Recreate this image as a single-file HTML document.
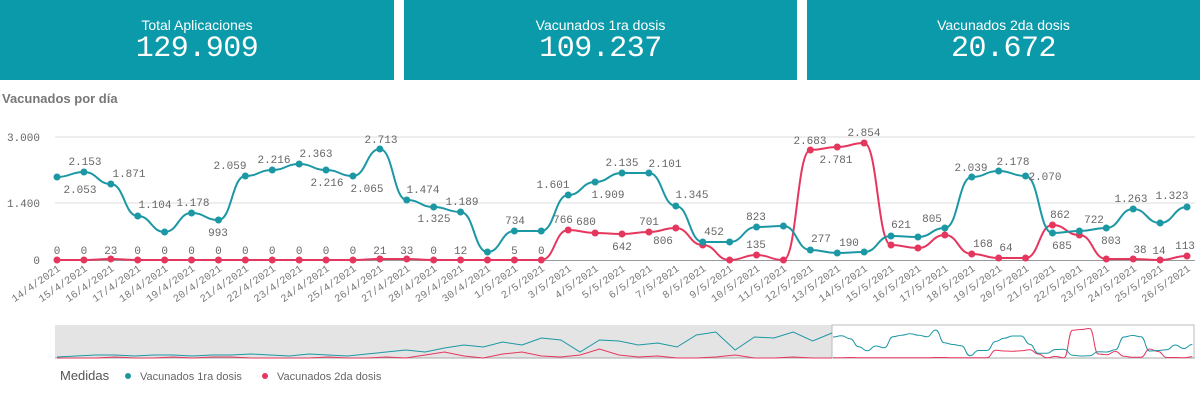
<!DOCTYPE html>
<html><head><meta charset="utf-8"><style>
body{margin:0;width:1200px;height:401px;background:#fff;overflow:hidden;font-family:"Liberation Sans",sans-serif;position:relative}
.card{position:absolute;top:0;height:80px;background:#0b9aa9;color:#fff;text-align:center}
.card .t{font-size:14px;margin-top:17px;line-height:16px}
.card .v{font-family:"Liberation Mono",monospace;font-size:30px;line-height:32px;letter-spacing:-0.5px}
.ttl{position:absolute;left:2px;top:91px;font-weight:bold;font-size:13px;color:#777}
svg{position:absolute;left:0;top:0}
</style></head><body>
<div class="card" style="left:0;width:394px"><div class="t">Total Aplicaciones</div><div class="v">129.909</div></div>
<div class="card" style="left:404px;width:393px"><div class="t">Vacunados 1ra dosis</div><div class="v">109.237</div></div>
<div class="card" style="left:807px;width:393px"><div class="t">Vacunados 2da dosis</div><div class="v">20.672</div></div>
<div class="ttl">Vacunados por día</div>
<svg id="s" width="1200" height="401" xmlns="http://www.w3.org/2000/svg"></svg>
<script>
var T=[177,172,184,216,232,213,220,176,170,164,170,176,149,200,207,212,252,231,231,195,182,173,173,206,242,242,227,226,250,253,252,236,237,228,177,171,176,233,231,228,209,223,207];
var R=[260,260,259,260,260,260,260,260,260,260,260,260,259,259,260,260,260,260,260,230,233,234,232,228,245,260,255,260,150,147,143,245,248,235,254,258,258,225,235,259,259,260,256];
var dates=[];for(var d=14;d<=30;d++)dates.push(d+"/4/2021");for(d=1;d<=26;d++)dates.push(d+"/5/2021");
function X(i){return 57+i*(1130/42)}
var teal="#1b98a4",red="#e5375e";
var h='';
h+='<line x1="55" y1="137" x2="1195" y2="137" stroke="#ddd"/><line x1="55" y1="203" x2="1195" y2="203" stroke="#ddd"/><line x1="55" y1="260.5" x2="1195" y2="260.5" stroke="#999"/>';
h+='<text x="40" y="141" text-anchor="end" font-family="Liberation Mono" font-size="11" fill="#666">3.000</text><text x="40" y="207" text-anchor="end" font-family="Liberation Mono" font-size="11" fill="#666">1.400</text><text x="40" y="264" text-anchor="end" font-family="Liberation Mono" font-size="11" fill="#666">0</text>';
function path(a,ox,sx,oy,sy){var s='';for(var i=0;i<a.length;i++){var x=ox+(X(i)-57)*sx,y=oy+(a[i]-137)*sy;if(i==0)s='M'+x+' '+y;else{var px=ox+(X(i-1)-57)*sx,py=oy+(a[i-1]-137)*sy,m=(px+x)/2;s+=' C'+m+' '+py+' '+m+' '+y+' '+x+' '+y;}}return s}
h+='<path d="'+path(R,57,1,137,1)+'" fill="none" stroke="'+red+'" stroke-width="2"/>';
h+='<path d="'+path(T,57,1,137,1)+'" fill="none" stroke="'+teal+'" stroke-width="2"/>';
for(var i=0;i<43;i++){h+='<circle cx="'+X(i)+'" cy="'+R[i]+'" r="3.5" fill="'+red+'"/><circle cx="'+X(i)+'" cy="'+T[i]+'" r="3.5" fill="'+teal+'"/>';
h+='<text transform="translate('+(X(i)+4)+',270) rotate(-35)" text-anchor="end" font-family="Liberation Mono" font-size="10.5" fill="#777">'+dates[i]+'</text>';}
var L=[["2.053",80,189],["2.153",85,161],["1.871",129,173],["1.104",155,204],["1.178",193,202],["993",218,232],["2.059",230,165],["2.216",274,159],["2.363",316,153],["2.216",327,182],["2.065",367,188],["2.713",381,139],["1.474",423,189],["1.325",434,218],["1.189",462,201],["734",515,220],["1.601",553,184],["766",563,219],["680",586,221],["1.909",608,194],["2.135",622,162],["642",622,246],["701",649,221],["2.101",665,163],["806",663,240],["1.345",692,194],["452",714,231],["823",756,216],["135",756,244],["2.683",810,140],["2.781",836,159],["2.854",864,132],["277",821,238],["190",849,242],["621",901,224],["805",932,218],["2.039",971,167],["2.178",1013,161],["2.070",1045,176],["168",983,243],["64",1006,247],["862",1060,214],["722",1094,219],["685",1062,245],["803",1111,240],["1.263",1131,198],["1.323",1172,195],["38",1140,249],["14",1159,250],["113",1185,245]];
var z=["0","0","23","0","0","0","0","0","0","0","0","0","21","33","0","12","","5","0"];
for(i=0;i<z.length;i++)if(z[i])L.push([z[i],X(i),250]);
L.forEach(function(l){h+='<text x="'+l[1]+'" y="'+(l[2]+4)+'" text-anchor="middle" font-family="Liberation Mono" font-size="11" fill="#666">'+l[0]+'</text>'});
h+='<rect x="55" y="325" width="777" height="33" fill="#e4e4e4"/><rect x="832" y="325" width="362" height="33" fill="#fff" stroke="#bbb"/><line x1="55" y1="358" x2="1195" y2="358" stroke="#aaa"/>';
var mt=[357,356,355,355,356,355,355,356,355,355,354,355,356,354,355,356,354,352,350,352,348,345,347,342,345,338,340,352,340,341,345,343,347,335,332,350,337,338,332,341,333];
var mr=[358,358,358,357,358,358,357,358,357,357,358,358,358,358,357,358,358,357,358,355,352,356,358,354,352,356,357,355,349,355,357,356,358,358,357,355,358,358,357,358,358];
function mp(a,col){var s='';for(var i=0;i<a.length;i++){var x=57+i*(775/40);s+=(i?' L':'M')+x+' '+a[i];}return '<path d="'+s+'" fill="none" stroke="'+col+'" stroke-width="1"/>'}
h+=mp(mr,red)+mp(mt,teal);
h+='<path d="'+path(R,833,0.318,327,0.25)+'" fill="none" stroke="'+red+'" stroke-width="1"/>';
h+='<path d="'+path(T,833,0.318,327,0.25)+'" fill="none" stroke="'+teal+'" stroke-width="1"/>';
h+='<text x="60" y="380" font-size="13" fill="#555">Medidas</text><circle cx="128" cy="376" r="3" fill="'+teal+'"/><text x="140" y="380" font-size="11" fill="#666">Vacunados 1ra dosis</text><circle cx="265" cy="376" r="3" fill="'+red+'"/><text x="277" y="380" font-size="11" fill="#666">Vacunados 2da dosis</text>';
document.getElementById('s').innerHTML=h;
</script>
</body></html>
